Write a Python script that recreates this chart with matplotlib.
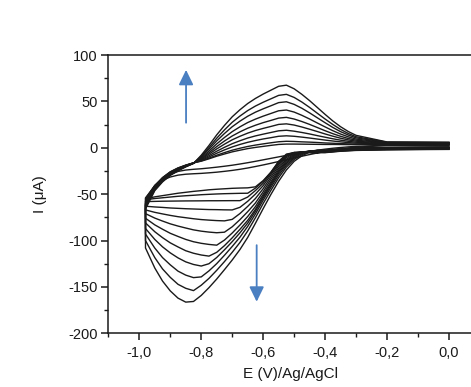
import matplotlib
matplotlib.use("Agg")
import matplotlib.pyplot as plt
from matplotlib.ticker import MultipleLocator, FuncFormatter

# potential grid of the forward (cathodic) sweep, V vs Ag/AgCl
E_FWD = [0.0, -0.1, -0.2, -0.3, -0.35, -0.4,
         -0.425, -0.45, -0.475, -0.5, -0.525, -0.55, -0.575, -0.6, -0.625, -0.65, -0.675,
         -0.7, -0.725, -0.75, -0.775, -0.8, -0.825, -0.85, -0.875, -0.9, -0.925, -0.95, -0.98]
# potential grid of the reverse (anodic) sweep
E_REV = [-0.98, -0.95, -0.925, -0.9, -0.875, -0.85, -0.825, -0.8, -0.775, -0.75, -0.725,
         -0.7, -0.675, -0.65, -0.625, -0.6, -0.575, -0.55, -0.525, -0.5, -0.475, -0.45,
         -0.425, -0.4, -0.375, -0.35, -0.325, -0.3, -0.2, -0.1, 0.0]

# current (uA), one row per voltammogram, largest first
I_FWD = [
    [1.0, 0.8, 0.5, -0.1, -1.0, -2.5, -2.8, -4.7, -8.6, -14.6, -23.9, -36.1, -50.3, -65.6, -81.4, -96.7, -109.7, -121.0, -131.4, -141.5, -150.8, -159.2, -165.7, -166.4, -162.1, -154.3, -143.7, -129.6, -108.0],
    [0.75, 0.55, 0.25, -0.35, -1.25, -2.75, -2.75, -4.0, -7.3, -12.6, -20.8, -32.2, -45.9, -60.1, -75.4, -89.7, -102.1, -112.7, -122.7, -132.1, -140.8, -148.2, -154.0, -151.5, -147.2, -139.7, -130.6, -118.4, -100.0],
    [0.5, 0.3, 0.0, -0.6, -1.5, -3.0, -3.0, -3.7, -6.2, -11.1, -18.7, -29.5, -42.7, -56.5, -71.3, -84.8, -96.4, -106.4, -115.9, -124.9, -132.7, -139.2, -140.0, -137.3, -133.0, -126.2, -118.4, -108.1, -93.0],
    [0.25, 0.05, -0.25, -0.85, -1.75, -3.25, -3.25, -3.5, -5.5, -9.9, -17.0, -27.3, -40.4, -54.0, -68.4, -81.2, -91.7, -101.2, -110.0, -118.3, -125.0, -127.5, -125.8, -123.0, -118.7, -113.3, -106.8, -98.8, -87.0],
    [0.0, -0.2, -0.5, -1.1, -2.0, -3.5, -3.5, -3.5, -5.0, -8.7, -15.5, -25.7, -38.7, -52.3, -66.4, -78.3, -87.9, -97.1, -105.5, -112.7, -116.8, -115.6, -113.7, -111.0, -106.9, -102.5, -96.9, -90.5, -81.0],
    [-0.25, -0.45, -0.75, -1.35, -2.25, -3.75, -3.75, -3.75, -4.6, -7.7, -14.0, -23.9, -36.7, -50.2, -63.4, -74.1, -83.3, -91.9, -99.5, -105.0, -104.2, -103.0, -101.3, -98.8, -95.6, -92.2, -87.8, -83.1, -76.0],
    [-0.5, -0.7, -1.0, -1.6, -2.5, -4.0, -4.0, -4.0, -4.3, -6.8, -12.4, -21.9, -34.0, -47.4, -59.5, -68.9, -77.5, -85.2, -91.0, -91.6, -90.9, -89.9, -88.5, -86.5, -84.4, -82.0, -79.0, -75.8, -71.0],
    [-0.75, -0.95, -1.25, -1.85, -2.75, -4.25, -4.25, -4.25, -4.25, -5.9, -10.7, -19.7, -31.5, -44.1, -54.7, -63.2, -70.9, -77.2, -78.8, -78.5, -78.0, -77.4, -76.5, -75.4, -74.3, -72.9, -71.3, -69.6, -67.0],
    [-1.0, -1.2, -1.5, -2.1, -3.0, -4.5, -4.5, -4.5, -4.5, -5.4, -9.3, -17.8, -29.1, -40.8, -49.9, -57.7, -64.2, -67.0, -66.9, -66.7, -66.6, -66.3, -66.0, -65.7, -65.3, -64.9, -64.3, -63.8, -63.0],
    [-1.25, -1.45, -1.75, -2.35, -3.25, -4.75, -4.75, -4.75, -4.75, -5.1, -8.3, -16.4, -27.3, -38.2, -46.1, -53.1, -57.0, -57.0, -57.05, -57.1, -57.1, -57.2, -57.25, -57.3, -57.4, -57.5, -57.6, -57.8, -58.0],
    [-1.5, -1.7, -2.0, -2.6, -3.5, -5.0, -5.0, -5.0, -5.0, -5.0, -7.5, -15.2, -26.4, -36.2, -43.5, -49.0, -49.1, -49.3, -49.5, -49.8, -50.2, -50.6, -51.2, -51.7, -52.3, -53.1, -53.9, -54.7, -56.0],
    [-1.75, -1.95, -2.25, -2.85, -3.75, -5.25, -5.25, -5.25, -5.25, -5.25, -6.8, -14.6, -26.4, -35.4, -42.1, -43.2, -43.4, -43.7, -44.2, -44.7, -45.3, -46.2, -47.0, -48.0, -49.0, -50.3, -51.6, -52.9, -55.0],
]
I_REV = [
    [-66.0, -46.2, -36.8, -29.8, -24.9, -20.6, -16.9, -8.05, 2.5, 13.9, 24.1, 33.4, 41.0, 47.7, 53.2, 57.9, 62.1, 66.3, 67.5, 63.6, 57.6, 50.8, 43.4, 36.0, 28.9, 22.7, 17.5, 13.4, 6.3, 6.15, 6.0],
    [-64.5, -45.4, -36.1, -29.2, -24.4, -20.3, -16.8, -9.05, 0.3, 10.3, 19.3, 27.5, 34.2, 40.1, 45.0, 49.1, 52.8, 56.5, 57.6, 54.3, 49.3, 43.5, 37.2, 31.0, 25.1, 19.8, 15.4, 11.9, 6.0, 5.85, 5.7],
    [-63.0, -44.7, -35.5, -28.7, -24.0, -20.1, -16.7, -9.85, -1.5, 7.4, 15.4, 22.7, 28.7, 34.0, 38.4, 42.0, 45.3, 48.7, 49.6, 46.8, 42.6, 37.6, 32.3, 27.0, 21.9, 17.4, 13.7, 10.7, 5.7, 5.55, 5.4],
    [-62.0, -44.0, -34.9, -28.2, -23.6, -19.8, -16.6, -10.75, -3.6, 4.2, 11.1, 17.4, 22.6, 27.2, 30.9, 34.1, 37.0, 39.9, 40.7, 38.5, 35.0, 31.0, 26.7, 22.5, 18.4, 14.8, 11.8, 9.4, 5.4, 5.25, 5.1],
    [-61.0, -43.4, -34.3, -27.7, -23.2, -19.6, -16.5, -11.55, -5.4, 1.3, 7.3, 12.7, 17.2, 21.1, 24.3, 27.1, 29.5, 32.0, 32.8, 31.0, 28.3, 25.2, 21.8, 18.4, 15.2, 12.4, 10.0, 8.2, 5.1, 4.95, 4.8],
    [-60.0, -42.9, -33.8, -27.3, -22.8, -19.4, -16.5, -12.25, -6.9, -1.2, 3.9, 8.6, 12.4, 15.8, 18.6, 20.9, 23.0, 25.2, 25.8, 24.5, 22.4, 20.0, 17.5, 14.9, 12.5, 10.3, 8.5, 7.1, 4.8, 4.65, 4.5],
    [-59.0, -42.3, -33.3, -26.8, -22.5, -19.2, -16.4, -12.95, -8.5, -3.7, 0.5, 4.4, 7.6, 10.5, 12.8, 14.7, 16.5, 18.3, 18.9, 17.9, 16.5, 14.9, 13.1, 11.4, 9.7, 8.2, 7.0, 6.0, 4.5, 4.35, 4.2],
    [-58.0, -41.8, -32.9, -26.5, -22.2, -19.0, -16.3, -13.55, -9.9, -5.9, -2.3, 0.9, 3.6, 5.9, 7.8, 9.5, 10.9, 12.4, 12.9, 12.4, 11.5, 10.5, 9.4, 8.3, 7.3, 6.4, 5.6, 5.0, 4.2, 4.05, 3.9],
    [-57.0, -41.3, -32.4, -26.1, -21.9, -18.8, -16.3, -14.15, -11.2, -8.0, -5.2, -2.6, -0.5, 1.4, 2.9, 4.2, 5.4, 6.5, 7.0, 6.8, 6.4, 6.1, 5.7, 5.2, 4.9, 4.5, 4.2, 4.0, 3.9, 3.75, 3.6],
    [-56.0, -40.8, -32.1, -25.9, -21.7, -18.7, -16.2, -14.45, -11.9, -9.1, -6.7, -4.4, -2.6, -0.9, 0.4, 1.5, 2.6, 3.6, 4.0, 4.0, 3.9, 3.8, 3.7, 3.6, 3.6, 3.5, 3.4, 3.4, 3.6, 3.45, 3.3],
    [-55.0, -40.5, -33.0, -28.5, -25.5, -24.0, -23.2, -22.6, -21.8, -20.9, -19.9, -18.8, -17.5, -16.1, -14.6, -13.0, -11.4, -9.8, -8.2, -6.7, -5.2, -3.8, -2.6, -1.5, -0.5, 0.3, 1.0, 1.5, 2.8, 3.0, 3.0],
    [-54.0, -41.0, -35.0, -31.5, -29.5, -28.5, -28.0, -27.6, -27.0, -26.3, -25.4, -24.4, -23.2, -21.8, -20.2, -18.5, -16.7, -14.8, -12.9, -11.0, -9.1, -7.3, -5.6, -4.0, -2.6, -1.3, -0.2, 0.7, 2.4, 2.7, 2.7],
]

LINE_COLOR = "#1a1a1a"
ARROW_COLOR = "#4a7fc1"
TEXT_COLOR = "#1a1a1a"

plt.rcParams["font.family"] = ["Liberation Sans", "DejaVu Sans"]

fig = plt.figure(figsize=(4.71, 3.87), dpi=100)
# right edge of the axes lies past the figure, as in the cropped original
ax = fig.add_axes([0.230, 0.1388, 0.789, 0.719])

for fwd, rev in zip(I_FWD, I_REV):
    ax.plot(E_FWD + E_REV, fwd + rev, color=LINE_COLOR, lw=1.0,
            solid_joinstyle="round")

# arrows showing the growth of the peaks
arrow = dict(arrowstyle="-|>,head_length=0.45,head_width=0.22", color=ARROW_COLOR,
             lw=1.3, mutation_scale=20, shrinkA=0, shrinkB=0)
ax.annotate("", xy=(-0.849, 84), xytext=(-0.849, 27), arrowprops=arrow)
ax.annotate("", xy=(-0.621, -166), xytext=(-0.621, -105), arrowprops=arrow)

ax.set_xlim(-1.1, 0.1)
ax.set_ylim(-200, 100)
ax.xaxis.set_major_locator(MultipleLocator(0.2))
ax.xaxis.set_minor_locator(MultipleLocator(0.1))
ax.yaxis.set_major_locator(MultipleLocator(50))
ax.yaxis.set_minor_locator(MultipleLocator(25))


def comma_fmt(value, pos):
    if abs(value) < 1e-9:
        value = 0.0
    return f"{value:.1f}".replace(".", ",")


ax.xaxis.set_major_formatter(FuncFormatter(comma_fmt))
ax.yaxis.set_major_formatter(FuncFormatter(lambda v, p: f"{v:.0f}"))

ax.tick_params(which="major", direction="out", length=5, width=1.1,
               labelsize=10.5, colors=TEXT_COLOR)
ax.tick_params(axis="x", which="major", pad=4)
ax.tick_params(axis="y", which="major", pad=2.5)
ax.tick_params(which="minor", direction="out", length=3, width=1.0, colors=TEXT_COLOR)
ax.tick_params(top=False, right=False, which="both")
for side in ("left", "bottom", "top"):
    ax.spines[side].set_linewidth(1.1)
    ax.spines[side].set_color(TEXT_COLOR)
ax.spines["right"].set_visible(False)

ax.set_xlabel("E (V)/Ag/AgCl", fontsize=11, color=TEXT_COLOR)
ax.set_ylabel("I (μA)", fontsize=11, color=TEXT_COLOR)
ax.xaxis.set_label_coords(0.49, -0.122)
ax.yaxis.set_label_coords(-0.165, 0.5)

fig.savefig("out.png", dpi=100)
